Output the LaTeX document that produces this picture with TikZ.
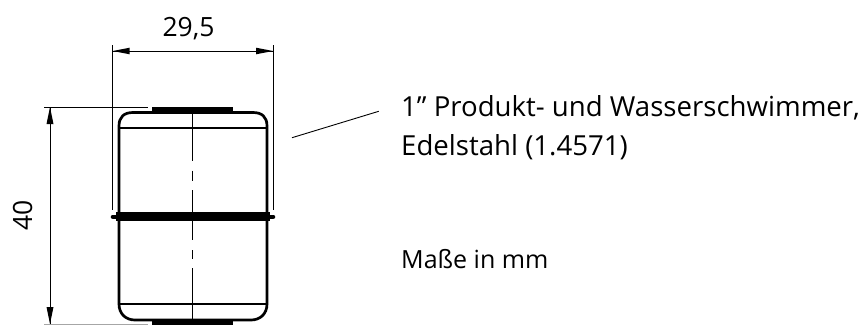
\documentclass[tikz,border=0pt]{standalone}
\usepackage{fontspec}
\setmainfont{Open Sans}
\begin{document}
\begin{tikzpicture}[x=1pt,y=-1pt,line join=round,
  dimline/.style={black,line width=0.9pt},
  dimtip/.style={fill=black,draw=none},
  body/.style={black,line width=2.7pt},
  thin body/.style={black,line width=1.6pt},
  label/.style={inner sep=0pt,anchor=base,font=\fontsize{26.5}{32}\selectfont,text=black},
  note/.style={inner sep=0pt,anchor=base west,font=\fontsize{27.6}{32}\selectfont,text=black}]
\useasboundingbox (0,0) rectangle (864,325);
% body
\draw[body] (119,216) -- (119,126) .. controls (119,117) and (124,112.5) .. (133,112.5) -- (253,112.5) .. controls (262,112.5) and (267,117) .. (267,126) -- (267,216);
\draw[thin body] (119,128) -- (267,128);
\fill (152,106.5) rectangle (233,112);
\draw[body] (119,216) -- (119,304) .. controls (119,314) and (126,320) .. (135,320) -- (251,320) .. controls (260,320) and (267,314) .. (267,304) -- (267,216);
\draw[thin body] (119,304) -- (267,304);
\fill (152,320) rectangle (233,325);
\draw[black,line width=4.6pt,line cap=round] (113,216.8) -- (273,216.8);
\fill (116,212) rectangle (270,221);
% centre line
\coordinate (ct) at (192.7,107);
\coordinate (cb) at (192.7,325);
\draw[dimline] (ct) -- (192.7,161);
\draw[dimline] (192.7,170.5) -- (192.7,181);
\draw[dimline] (192.7,190) -- (192.7,240);
\draw[dimline] (192.7,250) -- (192.7,259);
\draw[dimline] (192.7,268) -- (cb);
% width dimension
\coordinate (wl) at (112.7,51);
\coordinate (wr) at (273,51);
\draw[dimline] (112.7,45) -- (112.7,210);
\draw[dimline] (273,45) -- (273,210);
\draw[dimline] (wl) -- (wr);
\fill[dimtip] (wl) -- +(17,-3.3) -- +(17,3.3) -- cycle;
\fill[dimtip] (wr) -- +(-17,-3.3) -- +(-17,3.3) -- cycle;
\node[label] (w) at (188.5,36) {29,5};
% height dimension
\coordinate (ht) at (50,107);
\coordinate (hb) at (50,324);
\draw[dimline] (44,107) -- (148,107);
\draw[black!35,line width=0.9pt] (44,324.3) -- (148,324.3);
\draw[dimline] (ht) -- (hb);
\fill[dimtip] (ht) -- +(-3.5,17) -- +(3.5,17) -- cycle;
\fill[dimtip] (hb) -- +(-3.5,-17) -- +(3.5,-17) -- cycle;
\node[label,rotate=90] (h) at (32,215) {40};
% labels
\coordinate (la) at (292,137.7);
\coordinate (lb) at (378.7,111.3);
\draw[dimline] (la) -- (lb);
\node[note] (n1) at (401,116) {1" Produkt- und Wasserschwimmer,};
\node[note] (n2) at (401,155) {Edelstahl (1.4571)};
\node[note,font=\fontsize{25}{30}\selectfont] (n3) at (401,268.7) {Maße in mm};
\end{tikzpicture}
\end{document}
